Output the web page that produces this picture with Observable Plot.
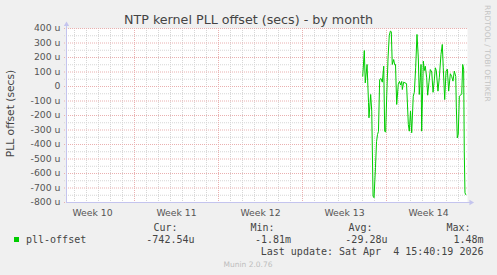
<!DOCTYPE html>
<html>
<head>
<meta charset="utf-8">
<script src="https://cdn.jsdelivr.net/npm/d3@7"></script>
<script src="https://cdn.jsdelivr.net/npm/@observablehq/plot@0.6"></script>
<style>
html, body { margin: 0; padding: 0; background: #f0f0f0; }
#chart { width: 497px; height: 275px; }
</style>
</head>
<body>
<div id="chart"></div>
<script>
// ---- texts ----
const title = "NTP kernel PLL offset (secs) - by month";
const yAxisLabel = "PLL offset (secs)";
const watermark = "RRDTOOL / TOBI OETIKER";
const footer = "Munin 2.0.76";

// ---- x axis: days since Monday of ISO week 10 ----
const weeks = [10, 11, 12, 13, 14];
const weekLabels = ["Week 10", "Week 11", "Week 12", "Week 13", "Week 14"];
const xDomain = [1.3333, 34.75];

// ---- y axis (microseconds) ----
const yDomain = [-800, 400];
const yTicks = [400, 300, 200, 100, 0, -100, -200, -300, -400, -500, -600, -700, -800];
const yTickLabels = ["400 u", "300 u", "200 u", "100 u", "0", "-100 u", "-200 u", "-300 u", "-400 u", "-500 u", "-600 u", "-700 u", "-800 u"];

// ---- series: pll-offset (time in days, offset in microseconds) ----
const days = [26.02, 26.15, 26.23, 26.38, 26.50, 26.54, 26.68, 26.77, 26.88, 26.96,
  27.08, 27.17, 27.25, 27.33, 27.43, 27.54, 27.65, 27.77, 27.85, 27.93,
  28.02, 28.13, 28.23, 28.32, 28.40, 28.48, 28.60, 28.68, 28.75, 28.85,
  28.98, 29.08, 29.18, 29.27, 29.32, 29.43, 29.54, 29.67, 29.82, 29.90,
  30.00, 30.10, 30.23, 30.32, 30.43, 30.54, 30.65, 30.73, 30.82, 30.88,
  30.93, 31.07, 31.15, 31.23, 31.35, 31.43, 31.54, 31.65, 31.77, 31.88,
  31.98, 32.07, 32.15, 32.29, 32.40, 32.54, 32.65, 32.73, 32.85, 32.96,
  33.07, 33.18, 33.32, 33.43, 33.54, 33.65, 33.77, 33.82, 33.90, 33.98,
  34.07, 34.18, 34.27, 34.35, 34.43, 34.48, 34.54, 34.60];
const offsets = [71, 248, 25, 152, -110, -216, -55, -170, -756, -767,
  -560, -380, -331, -310, 48, 55, 30, 140, -308, -315,
  -60, 200, 350, 382, 378, 152, 186, 150, 152, -124,
  14, 35, 10, 35, -21, 30, 25, 20, -262, -308,
  -170, -319, -67, -40, 129, 359, 198, -55, 60, 152,
  -308, 175, 110, 140, 60, -60, 30, 117, 100, -40,
  40, 129, 110, -32, 60, 221, 290, 129, -90, 106,
  120, -32, 88, 70, 37, 106, 70, -147, -354, -330,
  -67, -60, -50, 152, 120, -446, -733, -745];

// ---- legend ----
const legendSeries = "pll-offset";
const legendHeaders = ["Cur:", "Min:", "Avg:", "Max:"];
const legendValues = ["-742.54u", "-1.81m", "-29.28u", "1.48m"];
const lastUpdate = "Last update: Sat Apr  4 15:40:19 2026";

// ---- styles ----
const gridMinor = "#d6d6d6";
const gridMajor = "#eab0b0";
const axisColor = "#c4c4ee";
const lineColor = "#00cc00";

const data = days.map((d, i) => ({day: d, offset: offsets[i]}));
const weekStarts = weeks.map(w => (w - weeks[0]) * 7).filter(d => d > xDomain[0] && d < xDomain[1]);
const weekMids = weeks.map(w => (w - weeks[0]) * 7 + 3.5);
const minorDays = d3.range(Math.ceil(xDomain[0]), xDomain[1]).filter(d => d % 7 !== 0);
const minorY = d3.range(yDomain[0] + 50, yDomain[1], 100);

const chart = Plot.plot({
  width: 497,
  height: 275,
  marginLeft: 66,
  marginRight: 30,
  marginTop: 28,
  marginBottom: 73,
  x: {domain: xDomain, label: null},
  y: {domain: yDomain, label: null},
  style: {background: "#f0f0f0", fontFamily: "'DejaVu Sans'", fontSize: "9.3px", color: "#555"},
  marks: [
    Plot.frame({fill: "white", stroke: null}),
    Plot.ruleX(minorDays, {stroke: gridMinor, strokeDasharray: "1,1", insetBottom: -2}),
    Plot.ruleY(minorY, {stroke: gridMinor, strokeDasharray: "1,1", insetLeft: -2}),
    Plot.ruleX(weekStarts, {stroke: gridMajor, strokeDasharray: "1,1", insetBottom: -2}),
    Plot.ruleY(yTicks, {stroke: gridMajor, strokeDasharray: "1,1", insetLeft: -2}),
    Plot.ruleX([xDomain[0]], {stroke: axisColor, insetTop: -3}),
    Plot.ruleY([yDomain[0]], {stroke: axisColor, insetRight: -3}),
    Plot.dot([0], {x: () => xDomain[0], y: () => yDomain[1], symbol: "triangle", r: 2, fill: axisColor, stroke: null, dy: -4}),
    Plot.dot([0], {x: () => xDomain[1], y: () => yDomain[0], symbol: "triangle", r: 2, fill: axisColor, stroke: null, rotate: 90, dx: 3.5}),
    Plot.line(data, {x: "day", y: "offset", stroke: lineColor, strokeWidth: 1}),
    Plot.axisY({ticks: yTicks, tickSize: 0, tickPadding: 6, label: null, tickFormat: d => yTickLabels[yTicks.indexOf(d)]}),
    Plot.axisX({ticks: weekMids, tickSize: 0, tickPadding: 7, label: null, tickFormat: d => weekLabels[weekMids.indexOf(d)]})
  ]
});

document.getElementById("chart").appendChild(chart);
const svg = d3.select(chart);

svg.append("text")
  .attr("x", 248.5).attr("y", 23.5)
  .attr("text-anchor", "middle")
  .attr("font-family", "DejaVu Sans").attr("font-size", "12.7px")
  .attr("fill", "#444")
  .text(title);

svg.append("text")
  .attr("transform", "translate(14,113.5) rotate(-90)")
  .attr("text-anchor", "middle")
  .attr("font-family", "DejaVu Sans").attr("font-size", "10.7px")
  .attr("fill", "#444")
  .text(yAxisLabel);

svg.append("text")
  .attr("transform", "translate(484.5,5) rotate(90)")
  .attr("text-anchor", "start")
  .attr("font-family", "DejaVu Sans").attr("font-size", "7.5px")
  .attr("fill", "#c4c4c4")
  .text(watermark);

// legend
svg.append("rect").attr("x", 14).attr("y", 237).attr("width", 5).attr("height", 5).attr("fill", lineColor);
const mono = {family: "DejaVu Sans Mono", size: "10px", fill: "#444"};
function monoText(x, y, anchor, s) {
  svg.append("text").attr("x", x).attr("y", y).attr("text-anchor", anchor)
    .attr("font-family", mono.family).attr("font-size", mono.size).attr("fill", mono.fill)
    .style("white-space", "pre").text(s);
}
monoText(26, 243, "start", legendSeries);
const headerEnds = [177.5, 274.5, 372.5, 470.5];
const valueEnds = [194.5, 291, 387.5, 483.5];
legendHeaders.forEach((h, i) => monoText(headerEnds[i], 231, "end", h));
legendValues.forEach((v, i) => monoText(valueEnds[i], 243, "end", v));
monoText(483.5, 255, "end", lastUpdate);

svg.append("text")
  .attr("x", 248).attr("y", 267)
  .attr("text-anchor", "middle")
  .attr("font-family", "DejaVu Sans").attr("font-size", "7.5px")
  .attr("fill", "#bdbdbd")
  .text(footer);
</script>
</body>
</html>
